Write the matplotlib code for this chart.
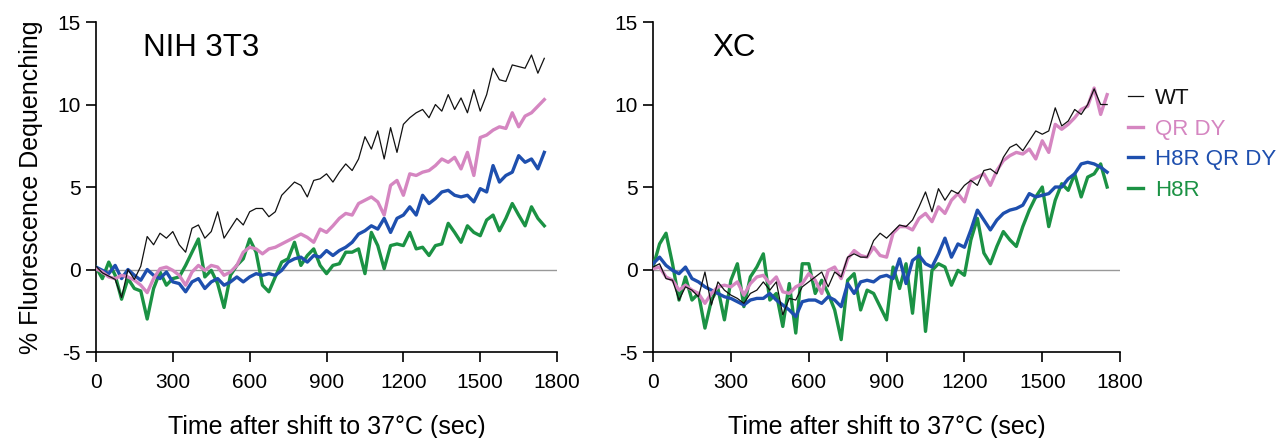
import numpy as np
import matplotlib.pyplot as plt

plt.rcParams['font.family'] = ['Liberation Sans', 'DejaVu Sans']
plt.rcParams['axes.unicode_minus'] = False

# time axis shared by all traces (sec)
time = np.arange(0, 1751, 25)

# NIH 3T3 panel
nih_wt = [0.2, -0.2, -0.4, -0.6, -1.7, 0.0, -0.6, 0.2, 2.0, 1.5, 2.2, 1.9, 2.3, 1.5, 1.05, 2.5,
          2.7, 1.9, 2.3, 3.5, 1.9, 2.5, 3.1, 2.7, 3.5, 3.7, 3.7, 3.2, 3.5, 4.5, 4.9, 5.3,
          5.1, 4.4, 5.4, 5.5, 5.8, 5.3, 5.9, 6.4, 6.0, 6.7, 8.05, 7.3, 8.4, 6.7, 8.6, 7.1,
          8.8, 9.2, 9.5, 9.7, 9.2, 10.0, 9.6, 10.6, 9.7, 10.4, 9.5, 10.9, 9.6, 10.6, 12.2, 11.5,
          11.4, 12.4, 12.3, 12.2, 13.0, 11.9, 12.8]
nih_qrdy = [0.05, -0.15, -0.45, -0.55, -0.35, -0.45, -0.65, -0.95, -1.4, -0.55, 0.05, 0.15, -0.05, -0.35, -0.95, -0.15,
            0.25, -0.05, 0.25, 0.15, -0.35, -0.15, 0.25, 1.05, 1.35, 1.25, 0.95, 1.25, 1.35, 1.55, 1.75, 1.95,
            2.15, 1.95, 1.65, 2.45, 2.25, 2.65, 3.1, 3.4, 3.3, 4.0, 4.2, 4.4, 4.1, 3.3, 5.1, 5.4,
            4.5, 5.8, 5.7, 5.9, 6.0, 6.3, 6.7, 6.5, 6.8, 6.1, 7.1, 5.7, 8.0, 8.15, 8.45, 8.65,
            8.55, 9.5, 8.65, 9.3, 9.5, 9.9, 10.3]
nih_h8r_qrdy = [0.15, -0.05, -0.25, 0.25, -0.55, 0.0, -0.35, -0.65, 0.0, -0.35, -0.55, -0.15, -0.75, -0.85, -1.35, -0.75,
                -0.55, -1.15, -0.75, -0.55, -0.95, -0.75, -0.45, -0.75, -0.45, -0.25, -0.35, -0.25, -0.35, -0.05, 0.45, 0.65,
                0.75, 0.45, 0.85, 0.75, 1.15, 0.85, 1.15, 1.35, 1.65, 2.15, 2.35, 2.65, 2.45, 3.1, 2.25, 3.1,
                3.3, 3.8, 3.3, 4.5, 4.0, 4.3, 4.7, 4.8, 4.5, 4.4, 4.5, 4.1, 4.9, 4.7, 6.3, 5.3,
                5.7, 5.9, 6.9, 6.5, 6.7, 6.1, 7.1]
nih_h8r = [0.15, -0.55, 0.45, -0.35, -1.8, -0.55, -1.15, -1.3, -3.0, -1.15, -0.15, -0.95, -0.55, -0.45, 0.25, 1.05,
           1.85, -0.45, -0.05, -0.85, -2.3, -0.35, 0.25, 0.65, 1.85, 1.05, -0.95, -1.35, -0.45, 0.45, 0.65, 1.65,
           0.25, 0.85, 1.25, 0.25, -0.25, 0.25, 0.35, 1.05, 1.05, 1.25, -0.25, 2.25, 1.45, 0.05, 1.45, 1.55,
           1.45, 2.25, 1.25, 1.35, 0.85, 1.45, 1.55, 2.8, 2.25, 1.65, 2.65, 2.25, 2.05, 3.0, 3.3, 2.35,
           3.1, 4.0, 3.3, 2.65, 3.8, 3.1, 2.65]

# XC panel
xc_wt = [0.15, 0.35, -0.55, -0.65, -1.85, -1.05, -1.25, -1.65, -0.15, -2.15, -0.75, -1.25, -1.55, -1.75, -2.05, -1.45,
         -1.25, -0.75, -1.25, -0.75, -2.75, -1.75, -1.85, -1.05, -0.75, -0.45, -0.15, -1.05, -0.15, -0.45, 0.75, 0.95,
         0.75, 0.75, 1.75, 2.2, 1.9, 2.3, 2.7, 2.6, 3.0, 3.8, 4.7, 3.5, 4.9, 4.2, 4.8, 4.6,
         5.1, 5.4, 5.1, 6.0, 6.1, 5.8, 6.8, 7.4, 7.6, 7.2, 7.8, 8.4, 8.2, 8.4, 9.8, 8.7,
         9.0, 9.7, 9.4, 10.0, 10.95, 10.0, 10.0]
xc_qrdy = [0.05, 0.15, -0.45, -0.65, -1.25, -0.95, -1.25, -1.45, -2.05, -1.45, -1.05, -0.95, -1.05, -0.75, -1.55, -0.85,
           -0.45, -0.35, -0.85, -0.45, -1.35, -1.45, -1.05, -0.85, -0.25, -0.65, -1.45, -0.05, 0.15, -0.55, 0.65, 1.15,
           0.85, 0.75, 1.35, 0.85, 0.75, 2.2, 2.6, 2.6, 2.4, 3.1, 3.4, 2.9, 3.8, 3.4, 4.2, 4.6,
           4.1, 5.4, 5.6, 5.8, 5.1, 6.0, 6.6, 6.9, 7.1, 7.0, 7.3, 6.7, 7.8, 7.1, 8.8, 8.5,
           8.8, 9.2, 9.7, 9.9, 11.0, 9.4, 10.6]
xc_h8r_qrdy = [0.35, 0.75, 0.25, -0.05, -0.25, 0.15, -0.55, -0.75, -1.05, -1.25, -1.45, -1.65, -1.75, -1.95, -2.15, -1.85,
               -1.75, -1.75, -1.45, -1.85, -2.15, -2.45, -2.85, -1.95, -1.85, -1.85, -2.05, -1.65, -1.85, -2.25, -0.85, -1.45,
               -0.75, -0.65, -0.75, -0.45, -0.35, -0.55, 0.65, -0.85, 0.55, 0.85, 0.35, 0.15, 0.95, 1.9, 0.75, 1.55,
               1.35, 2.4, 3.6, 3.0, 2.4, 3.0, 3.4, 3.6, 3.7, 3.9, 4.6, 4.4, 4.5, 4.6, 5.0, 5.0,
               5.5, 5.8, 6.4, 6.5, 6.4, 6.2, 5.9]
xc_h8r = [0.15, 1.55, 2.2, 0.35, -1.85, -0.45, -1.85, -1.45, -3.55, -1.85, -1.15, -3.05, -0.65, 0.35, -2.25, -0.45,
          0.15, 0.95, -1.85, -1.45, -3.45, -0.85, -3.85, 0.35, 0.35, -1.45, -0.65, -1.45, -2.45, -4.25, -0.65, -0.25,
          -2.45, -1.25, -1.45, -2.25, -3.05, 0.15, -1.15, 0.35, -2.65, 1.3, -3.75, -0.05, 0.35, 0.15, -0.95, -0.05,
          -0.35, 1.8, 3.1, 1.0, 0.35, 1.4, 2.3, 1.8, 1.4, 2.6, 3.6, 4.4, 5.0, 2.6, 4.2, 5.2,
          4.8, 5.8, 4.4, 5.6, 5.8, 6.4, 5.0]

labels = ['WT', 'QR DY', 'H8R QR DY', 'H8R']
colors = ['#111111', '#d586c1', '#1e4fae', '#1b9244']
widths = [0.9, 2.4, 2.4, 2.4]
xticks = [0, 300, 600, 900, 1200, 1500, 1800]
yticks = [-5, 0, 5, 10, 15]

fig = plt.figure(figsize=(12.81, 4.38), dpi=100)
ax1 = fig.add_axes([0.0749, 0.1963, 0.360, 0.7534])
ax2 = fig.add_axes([0.5098, 0.1963, 0.3646, 0.7534])

panels = [(ax1, 'NIH 3T3', [nih_wt, nih_qrdy, nih_h8r_qrdy, nih_h8r]),
          (ax2, 'XC', [xc_wt, xc_qrdy, xc_h8r_qrdy, xc_h8r])]

for ax, name, series in panels:
    ax.axhline(0, color='#999999', lw=1.0, zorder=1)
    # thick traces first, WT on top
    for i in [3, 2, 1, 0]:
        ax.plot(time, series[i], color=colors[i], lw=widths[i], label=labels[i],
                zorder=3 + (i == 0))
    ax.set_xlim(0, 1800)
    ax.set_ylim(-5, 15)
    ax.set_xticks(xticks)
    ax.set_yticks(yticks)
    for s in ['top', 'right']:
        ax.spines[s].set_visible(False)
    ax.spines['left'].set_linewidth(1.2)
    ax.spines['bottom'].set_linewidth(1.2)
    ax.tick_params(axis='both', labelsize=15, length=7, width=1.2)
    ax.tick_params(axis='x', pad=8)
    ax.tick_params(axis='y', pad=4)
    ax.set_xlabel('Time after shift to 37°C (sec)', fontsize=18, labelpad=17)

ax1.text(183, 13.4, 'NIH 3T3', fontsize=22.5, va='center')
ax2.text(227, 13.4, 'XC', fontsize=22.5, va='center')
ax1.set_ylabel('% Fluorescence Dequenching', fontsize=18, labelpad=10)

handles, _ = ax2.get_legend_handles_labels()
handles = handles[::-1]
leg = fig.legend(handles, labels, loc='upper left', bbox_to_anchor=(0.8806, 0.799),
                 frameon=False, fontsize=16, handlelength=0.68, handletextpad=0.54,
                 labelspacing=0.43, borderaxespad=0, borderpad=0)
for txt, c in zip(leg.get_texts(), colors):
    txt.set_color(c)

fig.savefig('out.png', dpi=100, facecolor='white')
